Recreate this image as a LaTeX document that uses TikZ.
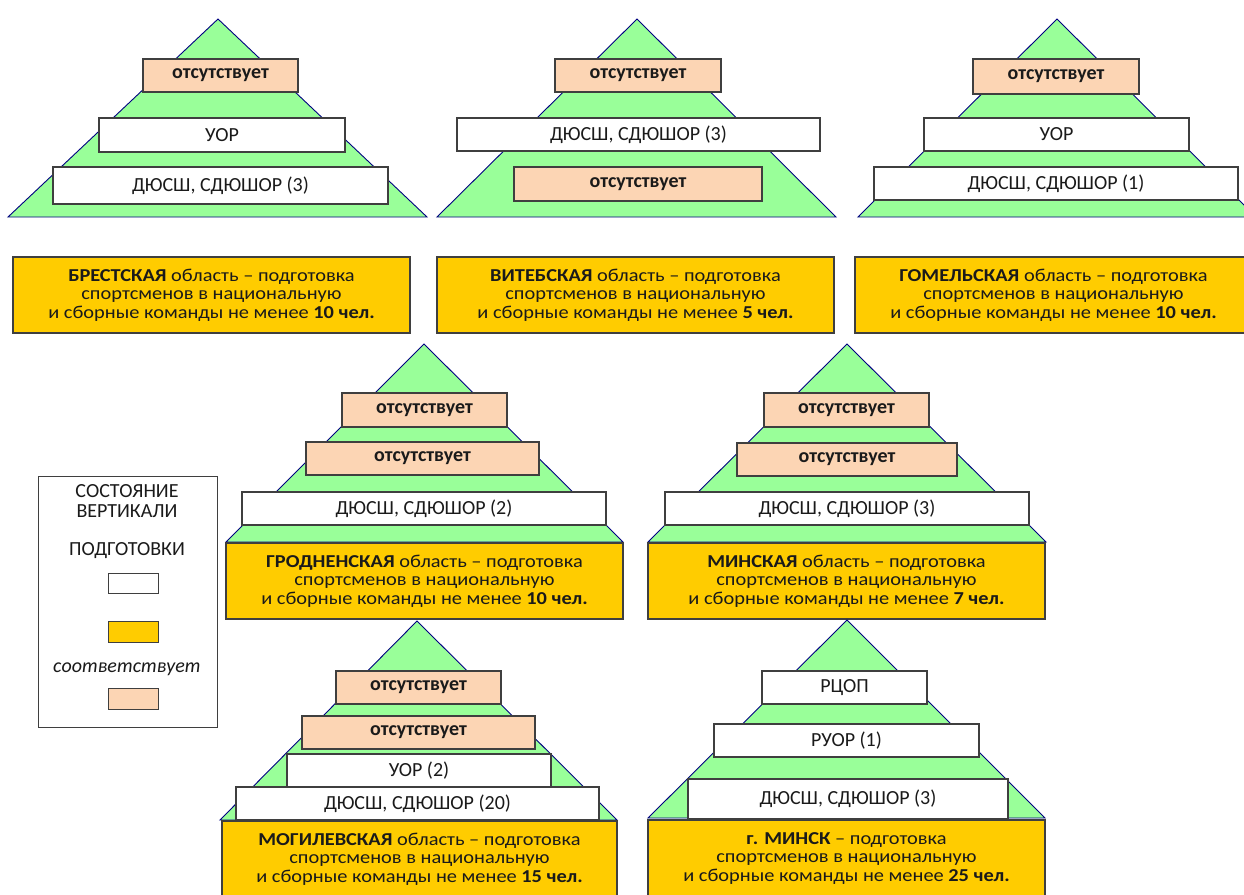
\documentclass[tikz,border=0pt]{standalone}
\usepackage{fontspec}
\setmainfont{Carlito}
\newfontfamily\ystretch[FakeStretch=1.12]{Carlito}
\definecolor{tgreen}{HTML}{99FF99}
\definecolor{tnavy}{HTML}{000080}
\definecolor{tpeach}{HTML}{FCD5B4}
\definecolor{tyellow}{HTML}{FFCC00}
\definecolor{tborder}{HTML}{3F3F3F}
\definecolor{ttext}{HTML}{1A1A1A}
\newcommand\mkbox[7]{\node[#1, minimum width={(#5-#3)*1pt}, minimum height={(#6-#4)*1pt}] (#2) at ({(#3+#5)/2},{(#4+#6)/2}) {#7};}
\tikzset{
  tri/.style={fill=tgreen, draw=tnavy, line width=0.9pt, line join=miter},
  basebox/.style={rectangle, draw=tborder, line width=1.1pt, inner sep=0pt, outer sep=0pt, text=ttext, font=\fontsize{20}{22}\selectfont},
  wbox/.style={basebox, fill=white},
  pbox/.style={basebox, fill=tpeach, font=\fontsize{20}{22}\selectfont\bfseries},
  ybox/.style={basebox, fill=tyellow, align=center, font=\ystretch\fontsize{18.2}{18.7}\selectfont},
  lbox/.style={rectangle, draw=tborder, line width=1pt, inner sep=0pt},
  ltext/.style={text=ttext, font=\fontsize{20}{22}\selectfont, inner sep=0pt},
  capline/.style={ltext, text height=13pt, text depth=0pt}
}
\begin{document}
\begin{tikzpicture}[x=1pt,y=-1pt]
\clip (0,0) rectangle (1244,894);
\fill[white] (0,0) rectangle (1244,894);
% Brest
\draw[tri] (8,217) -- (218,19) -- (427,217) -- cycle;
\mkbox{pbox}{b1a}{143}{59}{298}{92}{отсутствует}
\mkbox{wbox}{b1b}{99}{118}{345}{152}{УОР}
\mkbox{wbox}{b1c}{53}{167}{388}{204}{ДЮСШ, СДЮШОР (3)}
\mkbox{ybox}{b1y}{13}{257}{410}{333}{\textbf{БРЕСТСКАЯ} область – подготовка\\спортсменов в национальную\\и сборные команды не менее \textbf{10 чел.}}
% Vitebsk
\draw[tri] (437,217) -- (637,19) -- (836,217) -- cycle;
\mkbox{pbox}{b2a}{555}{59}{721}{92}{отсутствует}
\mkbox{wbox}{b2b}{457}{118}{820}{151}{ДЮСШ, СДЮШОР (3)}
\mkbox{pbox}{b2c}{514}{167}{762}{201}{отсутствует}
\mkbox{ybox}{b2y}{437}{257}{834}{333}{\textbf{ВИТЕБСКАЯ} область – подготовка\\спортсменов в национальную\\и сборные команды не менее \textbf{5 чел.}}
% Gomel
\draw[tri] (858,217) -- (1057,19) -- (1256,217) -- cycle;
\mkbox{pbox}{b3a}{973}{59}{1139}{94}{отсутствует}
\mkbox{wbox}{b3b}{924}{118}{1189}{151}{УОР}
\mkbox{wbox}{b3c}{874}{167}{1238}{200}{ДЮСШ, СДЮШОР (1)}
\mkbox{ybox}{b3y}{855}{257}{1252}{333}{\textbf{ГОМЕЛЬСКАЯ} область – подготовка\\спортсменов в национальную\\и сборные команды не менее \textbf{10 чел.}}
% Grodno
\draw[tri] (226,542) -- (424,344) -- (623,542) -- cycle;
\mkbox{pbox}{b4a}{342}{393}{507}{427}{отсутствует}
\mkbox{pbox}{b4b}{306}{442}{539}{475}{отсутствует}
\mkbox{wbox}{b4c}{242}{492}{606}{525}{ДЮСШ, СДЮШОР (2)}
\mkbox{ybox}{b4y}{226}{543}{623}{619}{\textbf{ГРОДНЕНСКАЯ} область – подготовка\\спортсменов в национальную\\и сборные команды не менее \textbf{10 чел.}}
% Minsk region
\draw[tri] (648,542) -- (847,344) -- (1046,542) -- cycle;
\mkbox{pbox}{b5a}{764}{393}{929}{427}{отсутствует}
\mkbox{pbox}{b5b}{737}{443}{957}{476}{отсутствует}
\mkbox{wbox}{b5c}{665}{492}{1029}{525}{ДЮСШ, СДЮШОР (3)}
\mkbox{ybox}{b5y}{648}{543}{1045}{619}{\textbf{МИНСКАЯ} область – подготовка\\спортсменов в национальную\\и сборные команды не менее \textbf{7 чел.}}
% Mogilev
\draw[tri] (220,820) -- (417,621) -- (617,820) -- cycle;
\mkbox{pbox}{b6a}{336}{671}{501}{704}{отсутствует}
\mkbox{pbox}{b6b}{302}{716}{535}{749}{отсутствует}
\mkbox{wbox}{b6c}{287}{754}{551}{787}{УОР (2)}
\mkbox{wbox}{b6d}{236}{787}{599}{820}{ДЮСШ, СДЮШОР (20)}
\mkbox{ybox}{b6y}{222}{821}{617}{897}{\textbf{МОГИЛЕВСКАЯ} область – подготовка\\спортсменов в национальную\\и сборные команды не менее \textbf{15 чел.}}
% Minsk city
\draw[tri] (648,818) -- (847,620) -- (1045,818) -- cycle;
\mkbox{wbox}{b7a}{762}{671}{927}{704}{РЦОП}
\mkbox{wbox}{b7b}{714}{724}{979}{757}{РУОР (1)}
\mkbox{wbox}{b7c}{688}{779}{1008}{819}{ДЮСШ, СДЮШОР (3)}
\mkbox{ybox}{b7y}{648}{820}{1045}{897}{\textbf{г. МИНСК} – подготовка\\спортсменов в национальную\\и сборные команды не менее \textbf{25 чел.}}
% Legend
\mkbox{lbox}{leg}{38}{476}{217}{727}{}
\node[capline] (l1a) at (127,491) {СОСТОЯНИЕ};
\node[capline] (l1b) at (127,511) {ВЕРТИКАЛИ};
\node[capline] (l2) at (127,549) {ПОДГОТОВКИ};
\mkbox{lbox, fill=white}{lw}{108}{573}{158}{593}{}
\mkbox{lbox, fill=tyellow}{ly}{108}{621}{158}{642}{}
\node[ltext, font=\fontsize{20}{22}\selectfont\itshape] (l3) at (127,669) {соответствует};
\mkbox{lbox, fill=tpeach}{lp}{108}{688}{158}{709}{}
\end{tikzpicture}
\end{document}
